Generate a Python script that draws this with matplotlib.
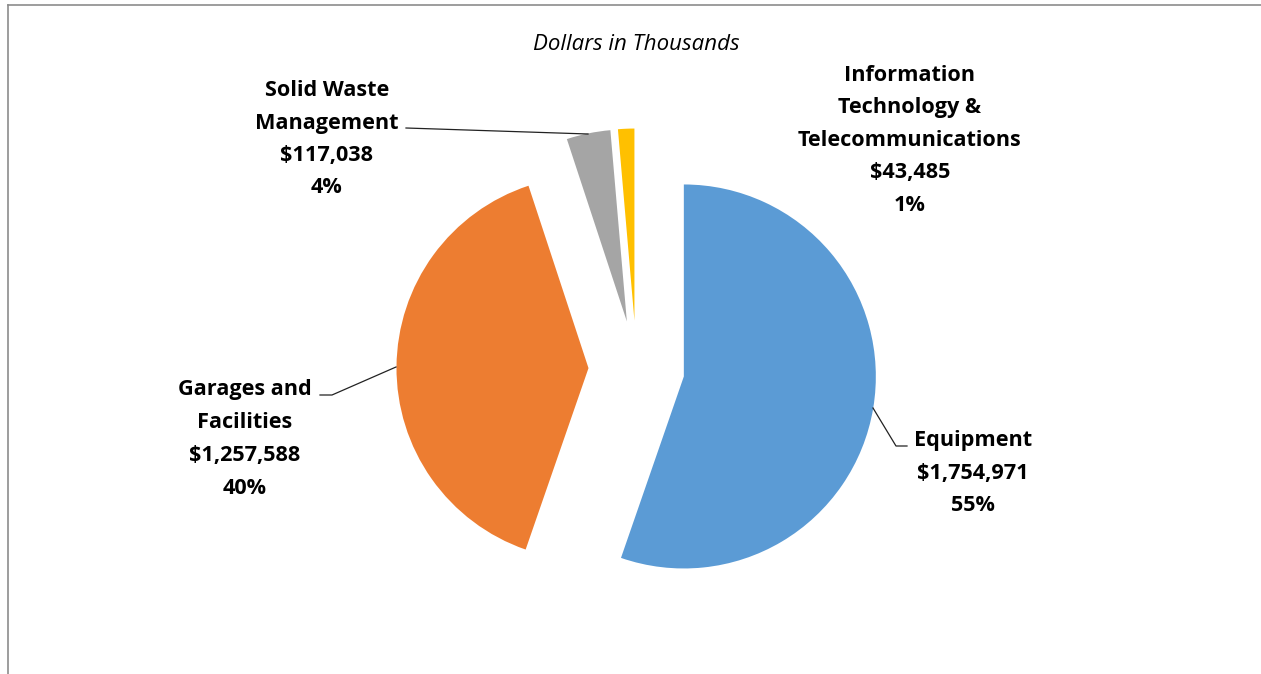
import matplotlib
matplotlib.use("Agg")
import matplotlib.pyplot as plt
from matplotlib.lines import Line2D

# ---- data ----
categories = ["Equipment", "Garages and Facilities", "Solid Waste Management",
              "Information Technology & Telecommunications"]
values = [1754971, 1257588, 117038, 43485]
percent_labels = ["55%", "40%", "4%", "1%"]
colors = ["#5B9BD5", "#ED7D31", "#A5A5A5", "#FFC000"]
title = "Dollars in Thousands"

W, H = 1261, 674
DPI = 100
fig = plt.figure(figsize=(W / DPI, H / DPI), dpi=DPI)
fig.patch.set_facecolor("white")

# pie geometry (pixels)
CX, CY, R = 636.5, 368.5, 192.0
EXPL = 48.0 / R

ax = fig.add_axes([0, 0, 1, 1])
ax.pie(values, colors=colors, startangle=90, counterclock=False,
       explode=[EXPL] * len(values), radius=1.0, center=(0, 0),
       wedgeprops=dict(linewidth=0))
ax.set_xlim(-CX / R, (W - CX) / R)
ax.set_ylim(-(H - CY) / R, CY / R)
ax.set_aspect("auto")
ax.axis("off")

def P(px, py):
    return ((px - CX) / R, (CY - py) / R)

FONT = "Open Sans"
FS = 15.6

def label_block(lines, cx, ys):
    for t, y in zip(lines, ys):
        x0, y0 = P(cx, y + 7.8)
        ax.text(x0, y0, t, ha="center", va="baseline", fontsize=FS,
                fontweight="bold", family=FONT, color="black")

def fmt(v):
    return "${:,}".format(v)

# labels
label_block(["Equipment", fmt(values[0]), percent_labels[0]], 973, [438, 471, 503])
label_block(["Garages and", "Facilities", fmt(values[1]), percent_labels[1]], 245, [387, 420, 453, 486])
label_block(["Solid Waste", "Management", fmt(values[2]), percent_labels[2]], 327, [88, 121, 153, 185])
label_block(["Information", "Technology &", "Telecommunications", fmt(values[3]), percent_labels[3]],
            910, [73, 105, 138, 170, 203])

# title
tx, ty = P(636, 50)
ax.text(tx, ty, title, ha="center", va="baseline", fontsize=16,
        style="italic", family=FONT, color="black")

# leader lines
def leader(pts):
    xs, ys = zip(*[P(x, y) for x, y in pts])
    ax.add_line(Line2D(xs, ys, color="#222222", lw=0.9))

leader([(907, 446), (896, 446), (873, 408)])
leader([(320, 395), (332, 395), (396, 367)])
leader([(406, 128), (588, 134)])

# frame (top & left visible)
ax.add_line(Line2D(*zip(P(8, 4.5), P(W + 5, 4.5)), color="#8C8C8C", lw=1.2))
ax.add_line(Line2D(*zip(P(8, 4.5), P(8, H + 5)), color="#8C8C8C", lw=1.2))

fig.savefig("out.png", dpi=DPI, facecolor="white")
